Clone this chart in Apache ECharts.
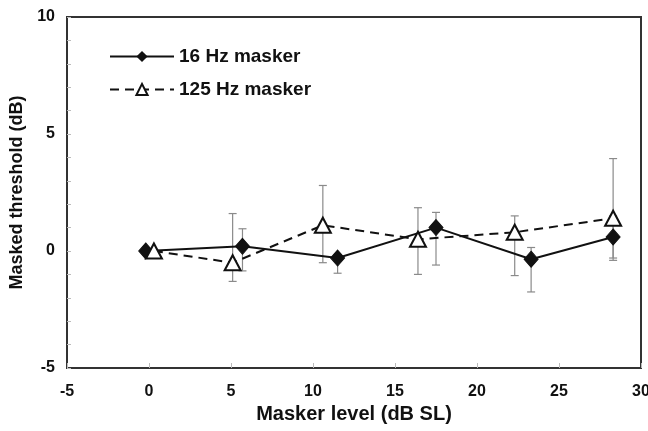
<!DOCTYPE html>
<html>
<head>
<meta charset="utf-8">
<script src="https://cdn.jsdelivr.net/npm/echarts@6/dist/echarts.min.js"></script>
<style>html,body{margin:0;padding:0;background:#fff}#c{width:648px;height:431px}</style>
</head>
<body>
<div id="c"></div>
<script>
// Data
const seriesNames = ['16 Hz masker', '125 Hz masker'];
const x16  = [-0.2, 5.7, 11.5, 17.5, 23.3, 28.3];
const y16  = [0, 0.2, -0.3, 1.0, -0.35, 0.6];
const lo16 = [null, -0.85, -0.95, -0.6, -1.75, -0.4];
const hi16 = [null, 0.95, -0.15, 1.65, 0.15, 1.5];
const x125  = [0.3, 5.1, 10.6, 16.4, 22.3, 28.3];
const y125  = [0, -0.5, 1.1, 0.5, 0.8, 1.4];
const lo125 = [null, -1.3, -0.5, -1.0, -1.05, -0.3];
const hi125 = [null, 1.6, 2.8, 1.85, 1.5, 3.95];
const xTicks = [-5, 0, 5, 10, 15, 20, 25, 30];
const yLabels = [-5, 0, 5, 10];

const FONT = '"Liberation Sans", Arial, sans-serif';
const pts = (xs, ys) => xs.map((x, i) => [x, ys[i]]);
const errs = (xs, lo, hi) => xs.map((x, i) => [x, lo[i], hi[i]]).filter(d => d[1] !== null);

function errRender(params, api) {
  const x = api.value(0), lo = api.value(1), hi = api.value(2);
  const pLo = api.coord([x, lo]), pHi = api.coord([x, hi]);
  const w = 4;
  const style = { stroke: '#8a8a8a', lineWidth: 1.2 };
  return {
    type: 'group',
    children: [
      { type: 'line', shape: { x1: pLo[0], y1: pLo[1], x2: pHi[0], y2: pHi[1] }, style },
      { type: 'line', shape: { x1: pLo[0] - w, y1: pLo[1], x2: pLo[0] + w, y2: pLo[1] }, style },
      { type: 'line', shape: { x1: pHi[0] - w, y1: pHi[1], x2: pHi[0] + w, y2: pHi[1] }, style }
    ]
  };
}

const chart = echarts.init(document.getElementById('c'), null, { renderer: 'canvas' });
chart.setOption({
  animation: false,
  backgroundColor: '#fff',
  textStyle: { fontFamily: FONT },
  grid: { left: 67, right: 7, top: 17, bottom: 63, outerBoundsMode: 'none', containLabel: false,
    show: true, borderColor: '#333', borderWidth: 2, backgroundColor: 'transparent' },
  legend: {
    orient: 'vertical', left: 104, top: 42, itemWidth: 64, itemHeight: 14, itemGap: 14,
    data: seriesNames,
    textStyle: { fontFamily: FONT, fontWeight: 'bold', fontSize: 19, color: '#111' }
  },
  xAxis: {
    type: 'value', min: xTicks[0], max: xTicks[xTicks.length - 1], interval: 5,
    name: 'Masker level (dB SL)', nameLocation: 'middle', nameGap: 33,
    nameTextStyle: { fontFamily: FONT, fontWeight: 'bold', fontSize: 20, color: '#111' },
    axisLine: { show: true, onZero: false, lineStyle: { color: '#333', width: 2 } },
    axisTick: { show: true, inside: true, length: 5, lineStyle: { color: '#bbb', width: 1 } },
    axisLabel: { fontFamily: FONT, fontWeight: 'bold', fontSize: 16, color: '#111', margin: 16 },
    splitLine: { show: false }
  },
  yAxis: {
    type: 'value', min: -5, max: 10, interval: 1,
    name: 'Masked threshold (dB)', nameLocation: 'middle', nameGap: 39, nameRotate: 90,
    nameTextStyle: { fontFamily: FONT, fontWeight: 'bold', fontSize: 18, color: '#111' },
    axisLine: { show: true, onZero: false, lineStyle: { color: '#333', width: 2 } },
    axisTick: { show: true, inside: true, length: 4, lineStyle: { color: '#bbb', width: 1 } },
    axisLabel: { fontFamily: FONT, fontWeight: 'bold', fontSize: 16, color: '#111', margin: 12,
      formatter: v => yLabels.includes(v) ? String(v) : '' },
    splitLine: { show: false }
  },
  series: [
    { type: 'custom', name: 'err16', renderItem: errRender, data: errs(x16, lo16, hi16), z: 1, silent: true, encode: { x: 0, y: [1, 2] } },
    { type: 'custom', name: 'err125', renderItem: errRender, data: errs(x125, lo125, hi125), z: 1, silent: true, encode: { x: 0, y: [1, 2] } },
    {
      type: 'line', name: seriesNames[0], data: pts(x16, y16), z: 3,
      symbol: 'diamond', symbolSize: [14, 16],
      lineStyle: { color: '#111', width: 2 },
      itemStyle: { color: '#111', borderColor: '#111' }
    },
    {
      type: 'line', name: seriesNames[1], data: pts(x125, y125), z: 4,
      symbol: 'triangle', symbolSize: [16, 15],
      lineStyle: { color: '#111', width: 2, type: [9, 6] },
      itemStyle: { color: '#fff', borderColor: '#111', borderWidth: 2 }
    }
  ]
});
</script>
</body>
</html>
